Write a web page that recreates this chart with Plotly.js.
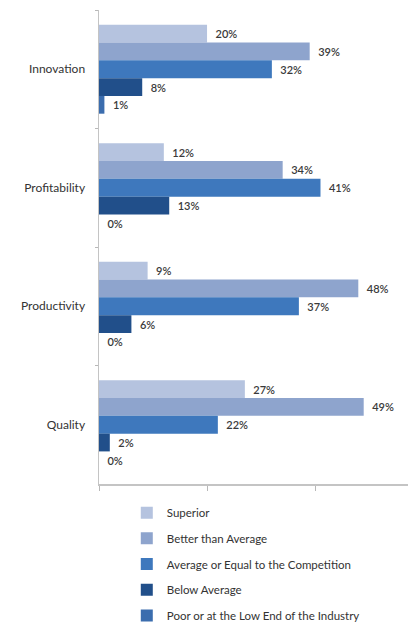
<!DOCTYPE html>
<html>
<head>
<meta charset="utf-8">
<script src="https://cdn.plot.ly/plotly-3.0.1.min.js"></script>
<style>html,body{margin:0;padding:0;background:#fff;}#chart{width:409px;height:625px;}</style>
</head>
<body>
<div id="chart"></div>
<script>
var categories = ["Innovation", "Profitability", "Productivity", "Quality"];
var seriesNames = ["Superior", "Better than Average", "Average or Equal to the Competition", "Below Average", "Poor or at the Low End of the Industry"];
var superior = [20, 12, 9, 27];
var betterThanAverage = [39, 34, 48, 49];
var averageOrEqual = [32, 41, 37, 22];
var belowAverage = [8, 13, 6, 2];
var poorOrLowEnd = [1, 0, 0, 0];
var xTickVals = [0, 20, 40];
var colors = ["#b5c3df", "#8ea4cd", "#3e78bd", "#214f8a", "#3b6dae"];

var seriesValues = [superior, betterThanAverage, averageOrEqual, belowAverage, poorOrLowEnd];
var traces = seriesValues.map(function (vals, i) {
  return {
    type: "bar",
    orientation: "h",
    name: seriesNames[i],
    y: categories,
    x: vals,
    text: vals.map(function (v) { return "\u00a0\u00a0" + v + "%"; }),
    textposition: "outside",
    constraintext: "none",
    cliponaxis: false,
    textfont: { family: "Lato, sans-serif", size: 11, color: "#3a3a3a", weight: 600 },
    marker: { color: colors[i] },
    legendgroup: "g" + i,
    hoverinfo: "name+x"
  };
});

var layout = {
  width: 409,
  height: 625,
  margin: { l: 99, r: 1, t: 10, b: 141, pad: 0, autoexpand: false },
  paper_bgcolor: "#ffffff",
  plot_bgcolor: "#ffffff",
  barmode: "group",
  bargap: 0.25,
  bargroupgap: 0,
  showlegend: true,
  font: { family: "Lato, sans-serif", size: 12, color: "#333333" },
  xaxis: {
    range: [0, 57.2],
    tickvals: xTickVals,
    showticklabels: false,
    ticks: "outside",
    ticklen: 5,
    tickcolor: "#b8b8b8",
    showline: true,
    linecolor: "#c4c4c4",
    linewidth: 1.5,
    showgrid: false,
    zeroline: false,
    automargin: false,
    fixedrange: true
  },
  yaxis: {
    type: "category",
    categoryorder: "array",
    categoryarray: categories,
    autorange: "reversed",
    tickson: "boundaries",
    ticks: "outside",
    ticklen: 3,
    tickcolor: "#b8b8b8",
    showline: true,
    linecolor: "#c4c4c4",
    linewidth: 1.5,
    showgrid: false,
    zeroline: false,
    automargin: false,
    ticklabelstandoff: 10,
    tickfont: { family: "Lato, sans-serif", size: 12, color: "#333333" },
    fixedrange: true
  },
  legend: {
    xref: "container",
    yref: "container",
    x: 0.31,
    xanchor: "left",
    y: 0.203,
    yanchor: "top",
    traceorder: "grouped",
    tracegroupgap: 6.7,
    font: { family: "Lato, sans-serif", size: 11.5, color: "#333333" },
    bgcolor: "rgba(0,0,0,0)"
  }
};

Plotly.newPlot("chart", traces, layout, { displayModeBar: false, staticPlot: true });
</script>
</body>
</html>
